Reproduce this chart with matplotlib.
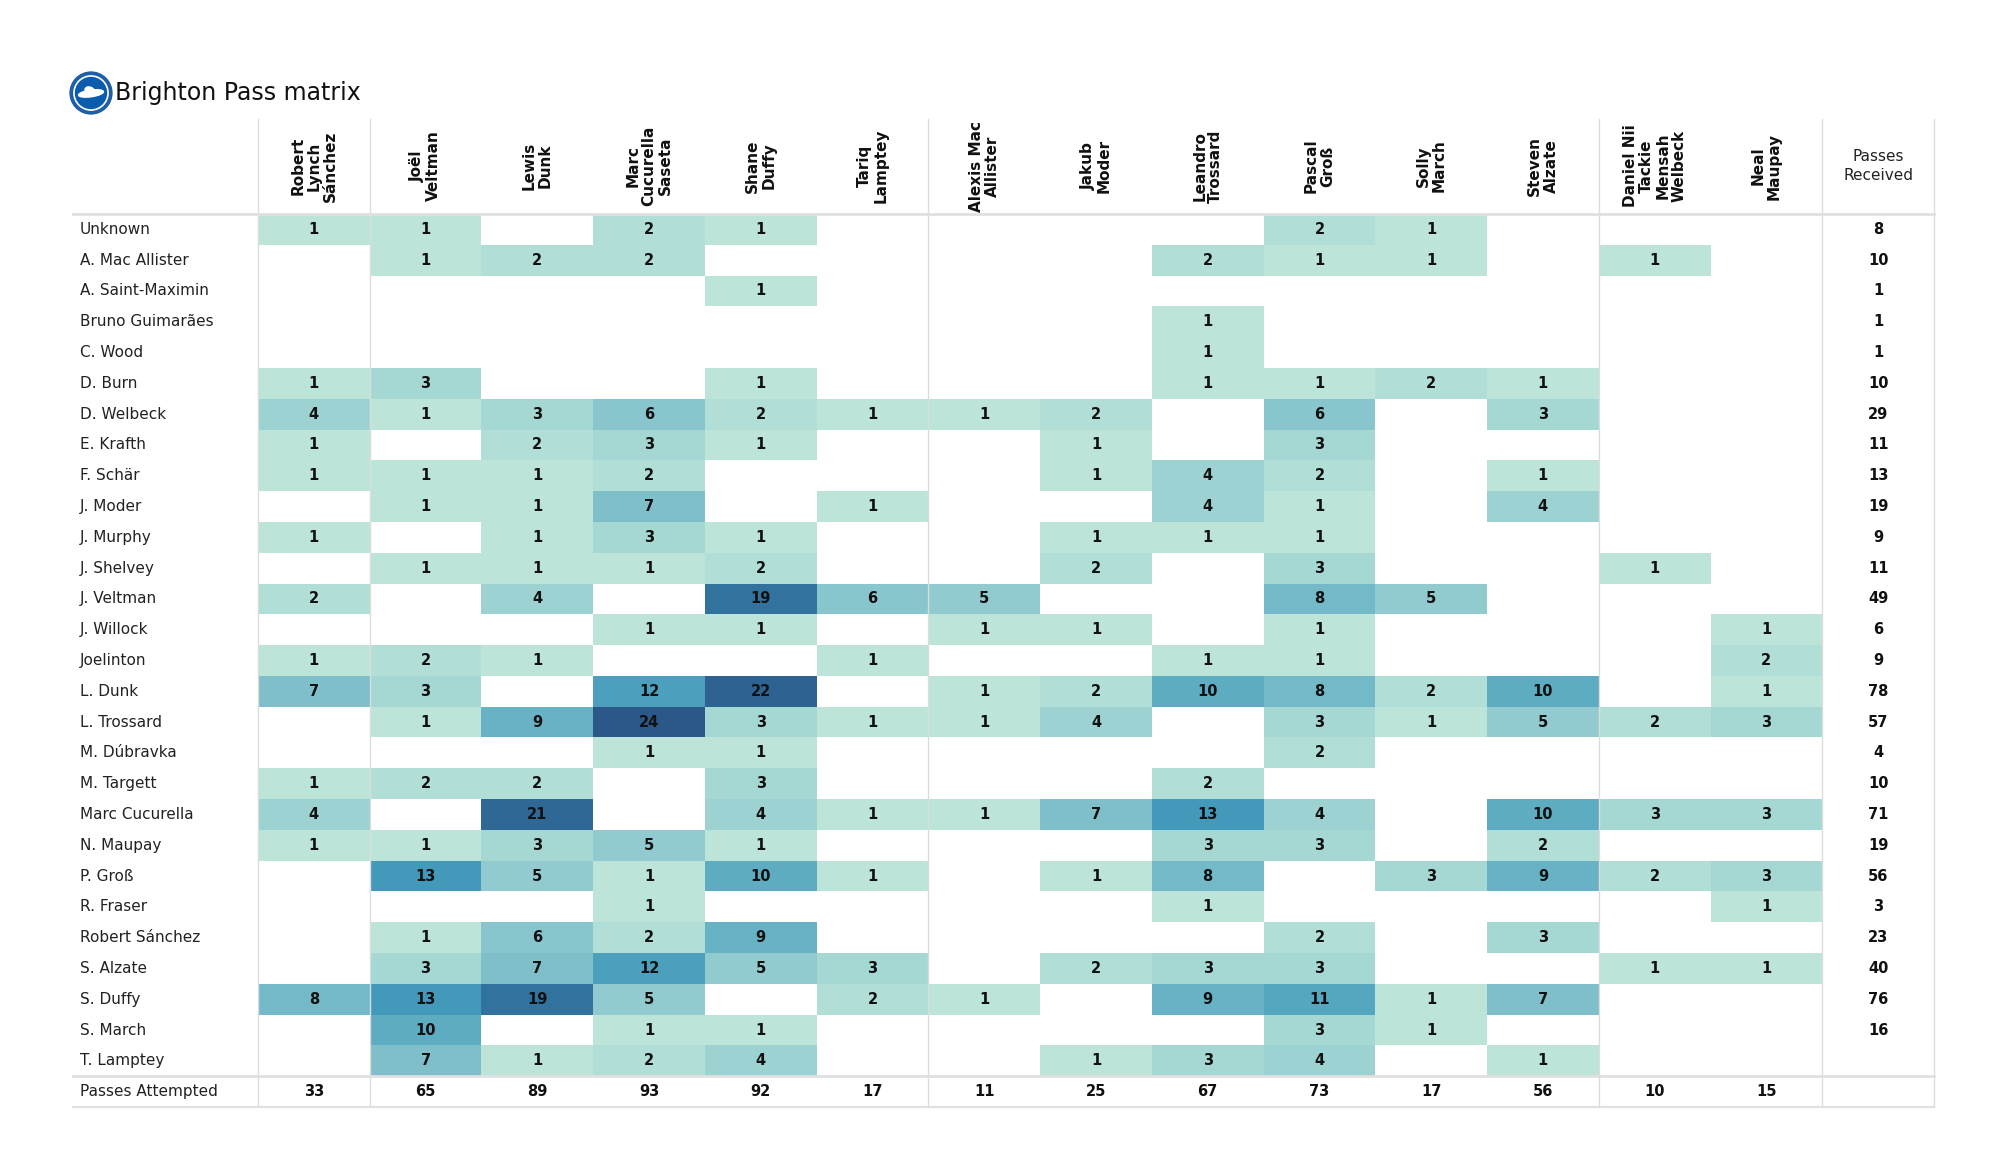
import numpy as np
import matplotlib
matplotlib.use("Agg")
import matplotlib.pyplot as plt
from matplotlib.colors import LinearSegmentedColormap, Normalize
from matplotlib.patches import Circle, Ellipse
from matplotlib.transforms import blended_transform_factory

passers = ["Robert\nLynch\nSánchez", "Joël\nVeltman", "Lewis\nDunk", "Marc\nCucurella\nSaseta",
           "Shane\nDuffy", "Tariq\nLamptey", "Alexis Mac\nAllister", "Jakub\nModer",
           "Leandro\nTrossard", "Pascal\nGroß", "Solly\nMarch", "Steven\nAlzate",
           "Daniel Nii\nTackie\nMensah\nWelbeck", "Neal\nMaupay"]

receivers = ["Unknown", "A. Mac Allister", "A. Saint-Maximin", "Bruno Guimarães", "C. Wood",
             "D. Burn", "D. Welbeck", "E. Krafth", "F. Schär", "J. Moder", "J. Murphy",
             "J. Shelvey", "J. Veltman", "J. Willock", "Joelinton", "L. Dunk", "L. Trossard",
             "M. Dúbravka", "M. Targett", "Marc Cucurella", "N. Maupay", "P. Groß", "R. Fraser",
             "Robert Sánchez", "S. Alzate", "S. Duffy", "S. March", "T. Lamptey"]

passes = np.array([
    [1, 1, 0, 2, 1, 0, 0, 0, 0, 2, 1, 0, 0, 0],
    [0, 1, 2, 2, 0, 0, 0, 0, 2, 1, 1, 0, 1, 0],
    [0, 0, 0, 0, 1, 0, 0, 0, 0, 0, 0, 0, 0, 0],
    [0, 0, 0, 0, 0, 0, 0, 0, 1, 0, 0, 0, 0, 0],
    [0, 0, 0, 0, 0, 0, 0, 0, 1, 0, 0, 0, 0, 0],
    [1, 3, 0, 0, 1, 0, 0, 0, 1, 1, 2, 1, 0, 0],
    [4, 1, 3, 6, 2, 1, 1, 2, 0, 6, 0, 3, 0, 0],
    [1, 0, 2, 3, 1, 0, 0, 1, 0, 3, 0, 0, 0, 0],
    [1, 1, 1, 2, 0, 0, 0, 1, 4, 2, 0, 1, 0, 0],
    [0, 1, 1, 7, 0, 1, 0, 0, 4, 1, 0, 4, 0, 0],
    [1, 0, 1, 3, 1, 0, 0, 1, 1, 1, 0, 0, 0, 0],
    [0, 1, 1, 1, 2, 0, 0, 2, 0, 3, 0, 0, 1, 0],
    [2, 0, 4, 0, 19, 6, 5, 0, 0, 8, 5, 0, 0, 0],
    [0, 0, 0, 1, 1, 0, 1, 1, 0, 1, 0, 0, 0, 1],
    [1, 2, 1, 0, 0, 1, 0, 0, 1, 1, 0, 0, 0, 2],
    [7, 3, 0, 12, 22, 0, 1, 2, 10, 8, 2, 10, 0, 1],
    [0, 1, 9, 24, 3, 1, 1, 4, 0, 3, 1, 5, 2, 3],
    [0, 0, 0, 1, 1, 0, 0, 0, 0, 2, 0, 0, 0, 0],
    [1, 2, 2, 0, 3, 0, 0, 0, 2, 0, 0, 0, 0, 0],
    [4, 0, 21, 0, 4, 1, 1, 7, 13, 4, 0, 10, 3, 3],
    [1, 1, 3, 5, 1, 0, 0, 0, 3, 3, 0, 2, 0, 0],
    [0, 13, 5, 1, 10, 1, 0, 1, 8, 0, 3, 9, 2, 3],
    [0, 0, 0, 1, 0, 0, 0, 0, 1, 0, 0, 0, 0, 1],
    [0, 1, 6, 2, 9, 0, 0, 0, 0, 2, 0, 3, 0, 0],
    [0, 3, 7, 12, 5, 3, 0, 2, 3, 3, 0, 0, 1, 1],
    [8, 13, 19, 5, 0, 2, 1, 0, 9, 11, 1, 7, 0, 0],
    [0, 10, 0, 1, 1, 0, 0, 0, 0, 3, 1, 0, 0, 0],
    [0, 7, 1, 2, 4, 0, 0, 1, 3, 4, 0, 1, 0, 0],
])

passes_received = [8, 10, 1, 1, 1, 10, 29, 11, 13, 19, 9, 11, 49, 6, 9, 78, 57, 4, 10, 71,
                   19, 56, 3, 23, 40, 76, 16, None]
passes_attempted = [33, 65, 89, 93, 92, 17, 11, 25, 67, 73, 17, 56, 10, 15]

# position groups: GK | defenders | midfield | forwards
group_edges = [0, 1, 6, 12, 14, 15]

W, H = 2000, 1175
fig = plt.figure(figsize=(W / 100, H / 100), dpi=100)
fig.patch.set_facecolor("white")

n_rows, n_cols = passes.shape
tbl_left, tbl_right, tbl_top, tbl_bottom = 258, 1934, 214, 1107
ax = fig.add_axes([tbl_left / W, 1 - tbl_bottom / H,
                   (tbl_right - tbl_left) / W, (tbl_bottom - tbl_top) / H])
ax.set_xlim(0, n_cols + 1)
ax.set_ylim(n_rows + 1, 0)
ax.axis("off")

cmap = LinearSegmentedColormap.from_list("pm", [
    (0 / 24, "#c6e9df"), (1 / 24, "#bce4d9"), (3 / 24, "#a6d8d3"), (6 / 24, "#88c5cd"),
    (10 / 24, "#5eacc2"), (13 / 24, "#4399ba"), (19 / 24, "#31729e"), (24 / 24, "#2c5889")])
masked = np.ma.masked_equal(passes, 0)
ax.pcolormesh(np.arange(n_cols + 1), np.arange(n_rows + 1), masked, cmap=cmap,
              norm=Normalize(0, 24), shading="flat")

num_kw = dict(ha="center", va="center", fontsize=10.5, fontweight="bold", color="#111111")
for i in range(n_rows):
    for j in range(n_cols):
        if passes[i, j]:
            ax.text(j + 0.5, i + 0.5, str(passes[i, j]), **num_kw)
    if passes_received[i] is not None:
        ax.text(n_cols + 0.5, i + 0.5, str(passes_received[i]), **num_kw)
for j, v in enumerate(passes_attempted):
    ax.text(j + 0.5, n_rows + 0.5, str(v), **num_kw)

# row labels
lab_tr = blended_transform_factory(fig.transFigure, ax.transData)
for i, name in enumerate(receivers + ["Passes Attempted"]):
    ax.text(80 / W, i + 0.5, name, transform=lab_tr, ha="left", va="center",
            fontsize=11, color="#222222")

# column headers
hdr_tr = blended_transform_factory(ax.transData, fig.transFigure)
hdr_y = 1 - 166 / H
for j, name in enumerate(passers):
    ax.text(j + 0.5, hdr_y, name, transform=hdr_tr, rotation=90, ha="center", va="center",
            multialignment="center", fontsize=11, fontweight="bold", color="#111111",
            linespacing=1.1)
ax.text(n_cols + 0.5, hdr_y, "Passes\nReceived", transform=hdr_tr, ha="center", va="center",
        multialignment="center", fontsize=11, color="#222222", linespacing=1.35)

# grid lines
grid_col = "#dcdcdc"
for x in group_edges:
    ax.plot([x, x], [1 - 119 / H, 1 - tbl_bottom / H], transform=hdr_tr, color=grid_col,
            lw=1, clip_on=False, zorder=3)
row_tr = blended_transform_factory(fig.transFigure, ax.transData)
for y, lw in [(0, 2), (n_rows, 2), (n_rows + 1, 1.5)]:
    ax.plot([73 / W, tbl_right / W], [y, y], transform=row_tr, color="#e0e0e0",
            lw=lw, clip_on=False, zorder=3)

# title and crest
fig.text(115 / W, 1 - 93 / H, "Brighton Pass matrix", ha="left", va="center",
         fontsize=17, color="#111111")
lax = fig.add_axes([69 / W, 1 - 115 / H, 44 / W, 44 / H])
lax.set_xlim(-1.05, 1.05)
lax.set_ylim(-1.05, 1.05)
lax.set_aspect("equal")
lax.axis("off")
lax.add_patch(Circle((0, 0), 1.0, color="#1d5ea8"))
lax.add_patch(Circle((0, 0), 0.82, color="white"))
lax.add_patch(Circle((0, 0), 0.74, color="#0b5cad"))
lax.add_patch(Ellipse((0, -0.02), 1.2, 0.32, angle=8, color="white"))
lax.add_patch(Ellipse((-0.05, 0.1), 0.5, 0.35, angle=-25, color="white"))

fig.savefig("out.png", dpi=100, facecolor="white")
